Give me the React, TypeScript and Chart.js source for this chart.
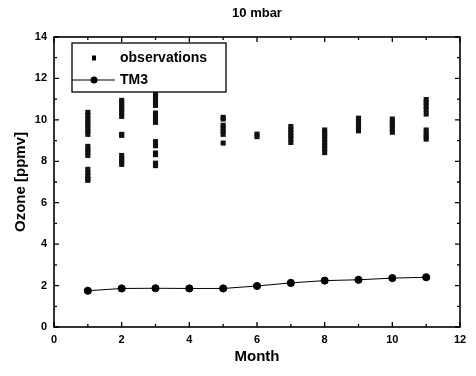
import React, { useEffect, useRef } from "react";
import { Chart, registerables } from "chart.js";

Chart.register(...registerables);

const chartTitle = "10 mbar";
const xTitle = "Month";
const yTitle = "Ozone [ppmv]";

const xTickValues = [0, 2, 4, 6, 8, 10, 12];
const yTickValues = [0, 2, 4, 6, 8, 10, 12, 14];

const obsLabel = "observations";
const obsMonths = [1, 2, 3, 5, 6, 7, 8, 9, 10, 11];
const obsValues = [
  [10.36, 10.2, 10.05, 9.9, 9.75, 9.6, 9.45, 9.3, 8.72, 8.58, 8.43, 8.28, 7.61, 7.45, 7.3, 7.15, 7.08],
  [10.94, 10.8, 10.65, 10.5, 10.35, 10.17, 9.3, 9.25, 8.28, 8.12, 7.98, 7.85],
  [11.6, 11.45, 11.3, 11.15, 11.0, 10.85, 10.7, 10.33, 10.18, 10.03, 9.88, 8.95, 8.75, 8.4, 8.32, 7.91, 7.79],
  [10.12, 10.04, 9.74, 9.6, 9.45, 9.3, 8.88],
  [9.31, 9.19],
  [9.68, 9.53, 9.38, 9.23, 9.08, 8.91],
  [9.51, 9.36, 9.21, 9.06, 8.91, 8.76, 8.61, 8.42],
  [10.08, 9.93, 9.78, 9.62, 9.47],
  [10.04, 9.89, 9.74, 9.57, 9.4],
  [10.98, 10.83, 10.68, 10.5, 10.28, 9.51, 9.36, 9.2, 9.07],
];

const modelLabel = "TM3";
const modelMonths = [1, 2, 3, 4, 5, 6, 7, 8, 9, 10, 11];
const modelValues = [1.75, 1.86, 1.87, 1.86, 1.86, 1.98, 2.13, 2.24, 2.28, 2.36, 2.4];

const FONT = "'Liberation Sans', Arial, Helvetica, sans-serif";

const framePlugin = {
  id: "frameTicksLegend",
  afterDatasetsDraw(chart: any) {
    const ctx = chart.ctx;
    const { left, right, top, bottom } = chart.chartArea;
    const xs = chart.scales.x;
    const ys = chart.scales.y;
    ctx.save();
    ctx.strokeStyle = "#000";
    // frame
    ctx.lineWidth = 1.6;
    ctx.strokeRect(left, top, right - left, bottom - top);
    // ticks
    ctx.lineWidth = 1.3;
    for (let v = xs.min; v <= xs.max; v += 1) {
      const px = xs.getPixelForValue(v);
      const len = v % 2 === 0 ? 5 : 3;
      ctx.beginPath();
      ctx.moveTo(px, bottom);
      ctx.lineTo(px, bottom - len);
      ctx.moveTo(px, top);
      ctx.lineTo(px, top + len);
      ctx.stroke();
    }
    for (let v = ys.min; v <= ys.max; v += 1) {
      const py = ys.getPixelForValue(v);
      const len = v % 2 === 0 ? 5 : 3;
      ctx.beginPath();
      ctx.moveTo(left, py);
      ctx.lineTo(left + len, py);
      ctx.moveTo(right, py);
      ctx.lineTo(right - len, py);
      ctx.stroke();
    }
    // title
    ctx.fillStyle = "#000";
    ctx.font = `bold 13px ${FONT}`;
    ctx.textAlign = "center";
    ctx.textBaseline = "middle";
    ctx.fillText(chartTitle, (left + right) / 2, 13);

    // legend
    const bx = left + 18;
    const by = top + 6;
    const bw = 154;
    const bh = 49;
    ctx.fillStyle = "#fff";
    ctx.fillRect(bx, by, bw, bh);
    ctx.lineWidth = 1.3;
    ctx.strokeRect(bx, by, bw, bh);
    const ds = chart.data.datasets;
    ctx.fillStyle = "#000";
    ctx.font = `bold 14px ${FONT}`;
    ctx.textAlign = "left";
    const r1 = by + 15;
    const r2 = by + 37;
    const mx = bx + 22;
    ctx.fillRect(mx - 2, r1 - 2.5, 4, 5);
    ctx.fillText(ds[0].label, bx + 48, r1);
    ctx.lineWidth = 1;
    ctx.beginPath();
    ctx.moveTo(bx, r2);
    ctx.lineTo(bx + 43, r2);
    ctx.stroke();
    ctx.beginPath();
    ctx.arc(mx, r2, 3.5, 0, Math.PI * 2);
    ctx.fill();
    ctx.fillText(ds[1].label, bx + 48, r2);
    ctx.restore();
  },
};

export default function App() {
  const ref = useRef<HTMLCanvasElement | null>(null);
  useEffect(() => {
    document.body.style.margin = "0";
    const obsPoints: { x: number; y: number }[] = [];
    obsMonths.forEach((m, i) => {
      obsValues[i].forEach((v) => obsPoints.push({ x: m, y: v }));
    });
    const modelPoints = modelMonths.map((m, i) => ({ x: m, y: modelValues[i] }));
    const chart = new Chart(ref.current as HTMLCanvasElement, {
      type: "scatter",
      data: {
        datasets: [
          {
            label: obsLabel,
            data: obsPoints,
            showLine: false,
            pointStyle: "rect",
            pointRadius: 3.6,
            backgroundColor: "#111",
            borderColor: "#111",
            borderWidth: 0,
          },
          {
            label: modelLabel,
            data: modelPoints,
            showLine: true,
            borderColor: "#000",
            borderWidth: 1,
            pointStyle: "circle",
            pointRadius: 3.6,
            backgroundColor: "#000",
            pointBackgroundColor: "#000",
          },
        ],
      },
      options: {
        responsive: false,
        animation: false,
        layout: { padding: { top: 37, right: 16, left: 0, bottom: 0 } },
        plugins: {
          legend: { display: false },
          tooltip: { enabled: false },
          title: { display: false },
        },
        scales: {
          x: {
            type: "linear",
            min: 0,
            max: 12,
            afterFit: (s: any) => {
              s.height = 49;
            },
            afterBuildTicks: (s: any) => {
              s.ticks = xTickValues.map((v) => ({ value: v }));
            },
            grid: { display: false, drawTicks: false },
            border: { display: false },
            ticks: {
              padding: 6,
              color: "#000",
              font: { family: FONT, size: 11, weight: "bold" },
              maxRotation: 0,
            },
            title: {
              display: true,
              text: xTitle,
              color: "#000",
              font: { family: FONT, size: 15, weight: "bold" },
              padding: { top: 0, bottom: 10 },
            },
          },
          y: {
            type: "linear",
            min: 0,
            max: 14,
            afterFit: (s: any) => {
              s.width = 54;
            },
            afterBuildTicks: (s: any) => {
              s.ticks = yTickValues.map((v) => ({ value: v }));
            },
            grid: { display: false, drawTicks: false },
            border: { display: false },
            ticks: {
              padding: 7,
              color: "#000",
              font: { family: FONT, size: 11, weight: "bold" },
            },
            title: {
              display: true,
              text: yTitle,
              color: "#000",
              font: { family: FONT, size: 15, weight: "bold" },
              padding: { top: 12, bottom: 0 },
            },
          },
        },
      },
      plugins: [framePlugin],
    } as any);
    return () => chart.destroy();
  }, []);
  return (
    <div style={{ width: 476, height: 376 }}>
      <canvas ref={ref} width={476} height={376} />
    </div>
  );
}
